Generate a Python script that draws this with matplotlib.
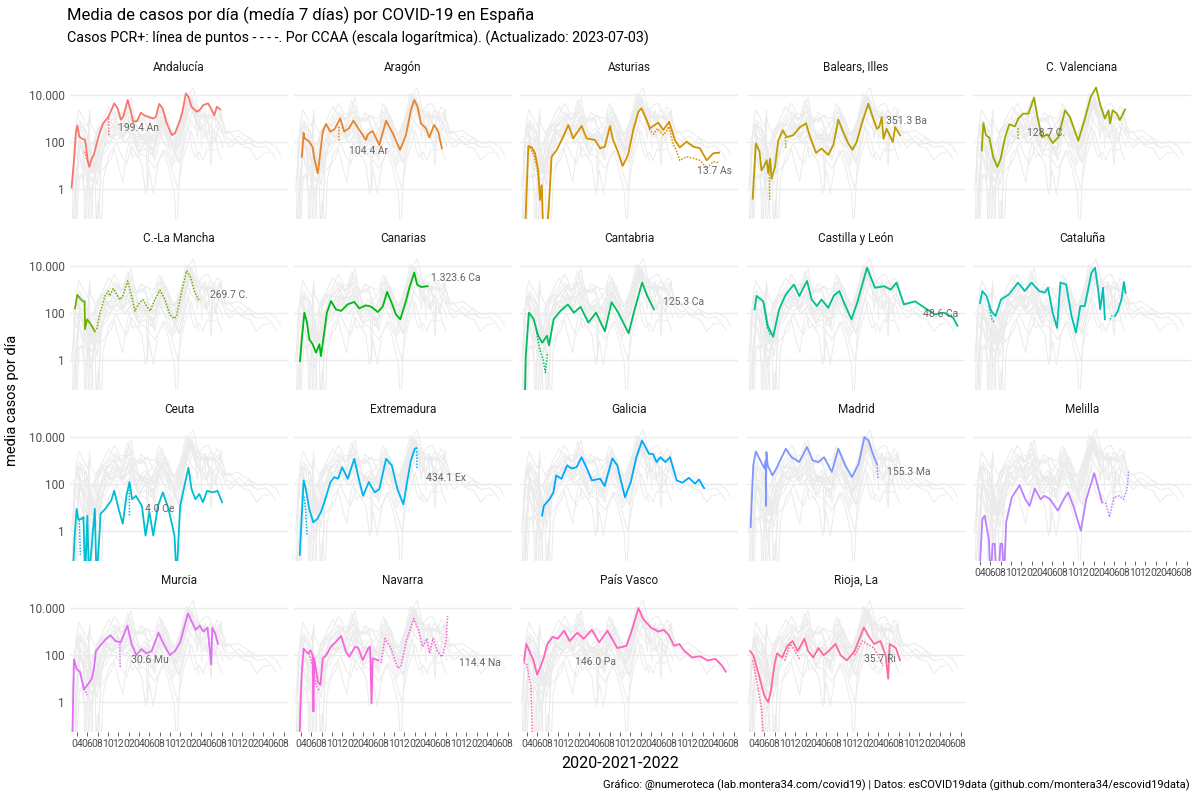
import numpy as np
import pandas as pd
import matplotlib
matplotlib.use('Agg')
import matplotlib.pyplot as plt

plt.rcParams['font.family'] = ['Roboto', 'DejaVu Sans']

nan = float('nan')

# (months since 2020-03-01, media casos/dia)
andalucia = [(0.0, 1.2), (0.46, 17), (0.85, 280), (1.1, 500), (1.5, 170), (1.95, 146), (2.6, 124), (2.8, 65), (3.1, 17), (3.4, 9), (3.9, 20), (4.3, 29), (4.85, 89), (5.5, 280), (6.1, 630), (7.1, 1200), (7.4, 1650), (8.25, 4450), (8.9, 2700), (9.55, 900), (10.0, 1250), (10.85, 6200), (11.4, 2300), (11.9, 740), (12.7, 800), (13.4, 1800), (14.0, 1400), (14.8, 1200), (15.8, 1000), (16.3, 1200), (16.95, 4200), (17.6, 2750), (18.4, 630), (19.4, 200), (20.0, 240), (21.0, 900), (21.5, 2300), (22.1, 11800), (22.6, 8500), (23.2, 3200), (24.2, 1950), (24.8, 2350), (25.5, 3800), (26.4, 4450), (27.1, 2350), (27.6, 1400), (28.1, 3200), (28.7, 2500)]
andalucia_pcr = [(2.5, 40), (2.8, 25), (3.1, 15), (nan, nan), (7.15, 1400), (7.2, 199.4)]

aragon = [(1.2, 24), (1.55, 250), (1.75, 145), (2.65, 105), (3.3, 60), (3.6, 21), (4.3, 4.8), (4.8, 40), (5.25, 280), (5.9, 590), (6.7, 280), (7.5, 350), (8.65, 1030), (9.4, 280), (10.3, 390), (11.2, 820), (12.1, 390), (13.6, 124), (14.0, 220), (14.9, 300), (16.2, 76), (17.5, 820), (18.8, 240), (20.2, 47), (21.35, 200), (22.3, 2300), (22.95, 6200), (23.6, 3200), (24.25, 630), (25.2, 390), (25.85, 160), (26.8, 540), (27.6, 280), (28.3, 55)]
aragon_pcr = [(8.35, 450), (8.4, 104.4)]

asturias = [(0.65, 0), (1.3, 69), (1.95, 60), (2.6, 34), (3.2, 6.6), (3.55, 0.35), (3.9, 1.5), (4.2, 0), (4.85, 0), (5.3, 0.25), (5.8, 24), (6.8, 47), (7.75, 124), (9.05, 540), (10.0, 145), (11.6, 490), (12.6, 145), (14.2, 124), (15.2, 55), (16.1, 65), (17.1, 490), (17.7, 124), (18.7, 36), (19.55, 9.8), (20.6, 29), (21.6, 330), (22.6, 2000), (23.2, 2750), (24.05, 1030), (24.8, 390), (26.45, 680), (27.4, 330), (28.55, 740), (29.65, 124), (30.6, 60), (31.9, 105), (33.2, 65), (34.5, 55), (35.8, 17), (37.1, 34), (38.2, 36)]
asturias_pcr = [(1.6, 60), (2.3, 30), (3.0, 8), (3.6, 1), (nan, nan), (24.3, 900), (24.8, 330), (25.5, 220), (26.3, 380), (27.0, 250), (27.5, 200), (28.5, 460), (29.3, 90), (30.0, 40), (30.6, 17), (31.9, 24), (33.2, 21), (34.5, 17), (35.8, 7.8), (37.1, 15), (38.0, 13.7)]

balears = [(0.8, 0.4), (1.4, 89), (2.1, 40), (2.5, 6.3), (2.9, 8.9), (3.5, 17), (3.8, 4.7), (4.15, 20), (4.45, 2.8), (5.1, 8.9), (5.75, 120), (6.6, 320), (7.35, 165), (8.6, 195), (9.95, 440), (11.1, 630), (11.9, 165), (13.05, 35), (14.1, 54), (15.4, 29), (16.4, 76), (17.35, 910), (18.3, 270), (19.3, 87), (20.1, 48), (20.9, 102), (21.9, 620), (23.15, 4300), (23.8, 1620), (24.8, 370), (25.25, 440), (25.75, 1170), (26.1, 140), (26.7, 370), (27.9, 102), (28.35, 440), (29.3, 195)]
balears_pcr = [(4.0, 8), (4.1, 0.35), (nan, nan), (7.1, 165), (7.2, 50)]

valenciana = [(1.37, 45), (1.7, 650), (2.2, 195), (2.85, 155), (3.6, 23), (4.4, 8.9), (5.05, 20), (5.9, 165), (6.7, 570), (7.8, 470), (8.45, 1000), (9.4, 1630), (10.4, 1630), (11.5, 7900), (12.1, 1380), (13.0, 165), (14.1, 215), (15.1, 91), (16.2, 165), (17.5, 2250), (18.45, 1170), (20.05, 115), (21.35, 1000), (22.45, 8300), (23.5, 21000), (24.25, 4300), (25.2, 1000), (25.9, 2250), (26.2, 620), (26.7, 2250), (27.5, 1630), (28.1, 870), (29.1, 2450)]
valenciana_pcr = [(8.4, 400), (8.45, 128.7)]

mancha = [(0.65, 160), (1.1, 600), (1.6, 440), (2.15, 320), (2.5, 320), (2.6, 21), (3.0, 55), (3.7, 34), (4.5, 17)]
mancha_pcr = [(4.85, 21), (5.5, 105), (6.45, 540), (7.1, 870), (7.4, 540), (8.05, 1100), (8.7, 630), (9.35, 380), (9.9, 540), (10.85, 2350), (11.6, 540), (12.25, 123), (12.9, 235), (13.75, 380), (14.5, 200), (15.2, 123), (15.95, 320), (17.1, 960), (18.05, 380), (19.0, 89), (19.8, 59), (20.3, 76), (21.3, 870), (22.25, 6200), (23.05, 3250), (23.7, 870), (24.5, 380), (24.85, 450)]

canarias = [(0.85, 0.93), (1.2, 7.8), (1.7, 105), (2.2, 40), (2.65, 7.8), (3.3, 4.8), (3.95, 2.1), (4.6, 4.8), (4.9, 1.5), (5.45, 11), (6.05, 105), (6.85, 330), (7.8, 145), (8.8, 125), (10.1, 240), (11.35, 300), (12.3, 160), (13.6, 215), (14.6, 190), (15.9, 112), (16.85, 190), (17.7, 800), (18.45, 330), (19.4, 89), (20.25, 55), (21.35, 330), (22.0, 1200), (22.95, 5300), (23.5, 1650), (24.25, 1300), (25.5, 1400)]
canarias_pcr = []

cantabria = [(0.6, 0), (0.8, 1.5), (1.4, 105), (2.3, 59), (3.2, 11), (4.0, 5.6), (4.9, 11), (5.3, 4.3), (6.2, 55), (7.5, 124), (8.95, 235), (10.1, 105), (11.4, 185), (12.9, 40), (14.4, 105), (16.1, 17), (17.4, 295), (18.7, 105), (20.7, 14), (21.7, 105), (23.3, 2000), (24.3, 540), (25.6, 145)]
cantabria_pcr = [(2.8, 20), (3.5, 3), (4.2, 1), (4.6, 0.3), (5.0, 2)]

cyl = [(1.15, 145), (1.55, 540), (2.85, 320), (3.7, 29), (4.75, 10), (5.9, 145), (7.2, 630), (8.75, 1650), (9.8, 540), (11.3, 2350), (12.2, 380), (13.2, 200), (14.1, 380), (15.4, 170), (16.5, 560), (17.55, 870), (18.6, 235), (19.9, 55), (21.0, 275), (22.9, 8500), (24.45, 1200), (26.2, 1400), (27.5, 1000), (28.6, 2000), (30.05, 235), (32.2, 320), (34.4, 150), (36.1, 89), (37.8, 105), (39.55, 65), (40.4, 29)]
cyl_pcr = [(3.0, 200), (3.6, 25), (4.2, 12)]

cataluna = [(1.05, 275), (1.5, 870), (2.3, 540), (3.2, 124), (4.05, 76), (5.1, 380), (6.65, 630), (8.4, 2000), (9.7, 870), (11.0, 2000), (12.5, 870), (13.55, 740), (14.2, 1200), (15.1, 105), (15.95, 24), (16.6, 2000), (17.7, 1650), (18.75, 76), (19.6, 15), (20.45, 200), (21.3, 200), (22.6, 5200), (23.3, 8500), (23.9, 1000), (24.3, 145), (24.85, 1200), (25.2, 55), (nan, nan), (27.15, 76), (27.7, 124), (28.4, 380), (28.9, 2100), (29.2, 740)]
cataluna_pcr = [(2.8, 200), (3.3, 60), (3.8, 40), (nan, nan), (26.2, 55), (26.6, 80)]

ceuta = [(0.2, 0), (0.6, 0.66), (0.97, 8.9), (1.3, 3.3), (1.85, 3.3), (2.3, 4), (2.6, 0), (3.05, 4.6), (3.35, 0), (4.5, 8.9), (4.8, 0), (5.3, 0.34), (5.6, 5.5), (6.5, 8.9), (7.65, 20), (8.25, 52), (9.1, 8.9), (9.9, 2.1), (10.6, 32), (11.2, 125), (11.7, 23), (12.45, 32), (13.6, 12), (14.3, 0.66), (15.05, 6.5), (15.8, 0.66), (16.7, 12), (17.65, 45), (18.75, 8.9), (19.9, 0.66), (20.3, 0), (21.0, 12), (21.7, 62), (22.6, 500), (23.2, 62), (23.95, 23), (24.7, 38), (25.4, 17), (26.2, 52), (27.3, 45), (28.25, 52), (29.1, 17)]
ceuta_pcr = [(1.5, 3), (1.7, 0.1), (nan, nan), (11.15, 80), (11.2, 4.0)]

extremadura = [(0.8, 0.1), (1.55, 145), (1.9, 74), (2.65, 8.9), (3.4, 2.4), (4.15, 3.3), (4.9, 6.5), (5.65, 20), (6.75, 123), (7.5, 200), (8.2, 170), (9.0, 520), (10.1, 170), (11.35, 1200), (12.3, 145), (13.05, 32), (14.15, 123), (15.3, 45), (16.2, 62), (17.5, 1200), (18.6, 630), (19.7, 62), (20.85, 14), (21.55, 123), (22.3, 1000), (23.05, 3200), (23.4, 3400)]
extremadura_pcr = [(1.6, 30), (1.9, 10), (2.2, 0.7), (nan, nan), (23.45, 2500), (23.5, 434.1)]

galicia = [(3.96, 4.6), (4.3, 12), (5.4, 23), (6.15, 45), (6.7, 235), (7.7, 170), (8.8, 630), (9.7, 460), (10.65, 540), (11.6, 1400), (12.5, 540), (13.6, 145), (15.2, 170), (16.05, 83), (17.55, 1250), (18.5, 630), (20.0, 28), (21.1, 120), (22.2, 1400), (23.3, 7100), (24.65, 1950), (25.4, 1950), (26.1, 870), (26.85, 1400), (27.8, 870), (28.7, 1400), (30.0, 145), (31.1, 115), (32.35, 186), (33.55, 105), (34.3, 160), (35.3, 68)]
galicia_pcr = []

madrid = [(0.4, 1.5), (0.9, 630), (1.4, 2450), (1.95, 1400), (2.75, 630), (3.1, 460), (3.3, 1000), (3.35, 12), (3.45, 2300), (3.7, 630), (4.6, 235), (5.35, 460), (6.1, 1020), (7.2, 3200), (8.3, 1400), (9.8, 870), (11.3, 3800), (12.4, 1020), (13.5, 870), (14.6, 1400), (16.1, 330), (17.35, 3200), (18.7, 630), (20.0, 200), (21.3, 740), (22.4, 10000), (23.2, 7200), (24.0, 2000), (24.8, 740)]
madrid_pcr = [(24.9, 700), (25.0, 155.3)]

melilla = [(0.9, 0), (1.5, 3.3), (1.95, 4.6), (2.75, 0.47), (3.1, 0), (3.5, 0.3), (3.9, 0.29), (4.2, 0), (4.6, 0), (5.0, 0.3), (5.35, 0.29), (5.7, 0), (6.1, 2.4), (7.2, 28), (8.7, 91), (9.8, 23), (10.65, 12), (11.65, 66), (12.75, 23), (13.5, 32), (14.6, 23), (16.1, 7.6), (17.25, 23), (18.1, 45), (19.1, 12), (20.55, 1.06), (21.6, 23), (23.15, 295), (23.9, 72), (24.65, 17)]
melilla_pcr = [(24.65, 17), (25.4, 15), (26.1, 4), (26.9, 28), (28.0, 32), (28.8, 23), (29.5, 62), (29.8, 380)]

murcia = [(0.1, 0), (0.45, 68), (1.0, 25), (1.6, 20), (2.4, 3.5), (3.2, 6), (3.9, 10), (4.3, 25), (4.7, 150), (5.5, 250), (6.5, 450), (7.5, 700), (8.5, 400), (9.5, 350), (10.8, 1800), (11.6, 300), (12.5, 100), (13.5, 180), (14.5, 120), (15.5, 150), (16.8, 900), (17.8, 300), (19.0, 100), (20.0, 150), (21.0, 350), (22.5, 6000), (23.3, 2500), (24.0, 1200), (24.8, 1800), (25.5, 1000), (26.3, 1500), (27.0, 40), (27.2, 1500), (27.8, 800), (28.3, 300)]
murcia_pcr = [(2.2, 5), (3.0, 2), (nan, nan), (9.3, 400), (9.4, 30.6)]

navarra = [(0.7, 0), (0.9, 0.4), (1.2, 20), (1.55, 190), (2.35, 117), (2.9, 160), (3.3, 100), (3.45, 0.4), (3.6, 76), (4.3, 7.6), (4.8, 5.4), (5.25, 74), (5.9, 100), (6.85, 230), (7.8, 370), (8.8, 660), (9.75, 138), (10.4, 85), (11.5, 230), (12.1, 204), (13.0, 62), (14.05, 195), (14.4, 230), (14.7, 0.9), (14.9, 74), (15.9, 62)]
navarra_pcr = [(2.6, 120), (3.2, 40), (4.0, 5), (4.6, 3), (nan, nan), (15.9, 62), (16.5, 49), (17.3, 510), (18.45, 195), (19.75, 28), (20.4, 35), (21.35, 370), (22.85, 3600), (23.75, 1170), (24.6, 230), (25.4, 510), (25.9, 117), (26.55, 510), (27.5, 138), (28.3, 85), (29.1, 370), (29.4, 4600)]

pais_vasco = [(0.5, 60), (0.9, 300), (1.5, 150), (2.3, 60), (3.0, 15), (3.6, 30), (4.3, 80), (5.0, 300), (6.0, 600), (7.0, 500), (8.2, 1100), (9.3, 400), (10.8, 900), (12.0, 500), (13.6, 1200), (15.0, 350), (16.6, 1100), (18.5, 200), (20.3, 250), (21.5, 1500), (22.6, 10000), (23.5, 3500), (25.0, 1500), (26.5, 1000), (27.5, 1200), (28.5, 700), (29.5, 250), (30.5, 300), (31.5, 150), (33.0, 80), (34.5, 90), (36.0, 60), (37.5, 70), (38.8, 35), (39.5, 20)]
pais_vasco_pcr = [(0.4, 50), (1.0, 40), (1.8, 5), (2.2, 0)]

rioja = [(0.3, 150), (0.9, 100), (1.6, 30), (2.3, 8), (3.0, 2), (3.8, 1), (4.3, 3), (5.0, 40), (5.5, 120), (6.5, 80), (7.5, 250), (8.5, 400), (9.5, 150), (10.8, 500), (11.5, 150), (12.5, 80), (13.5, 200), (14.5, 100), (15.5, 150), (16.8, 300), (17.8, 100), (19.0, 60), (20.5, 150), (22.3, 1500), (23.3, 600), (24.3, 300), (25.5, 400), (26.5, 100), (27.0, 10), (27.3, 300), (28.5, 200), (29.3, 60)]
rioja_pcr = [(0.8, 60), (1.5, 10), (2.5, 0.5), (3.0, 0), (nan, nan), (7.0, 60), (8.0, 300), (9.0, 150), (10.0, 60), (nan, nan), (20.5, 100), (22.0, 400), (24.3, 200), (26.0, 35.7)]

regions = ['Andalucía', 'Aragón', 'Asturias', 'Balears, Illes', 'C. Valenciana',
           'C.-La Mancha', 'Canarias', 'Cantabria', 'Castilla y León', 'Cataluña',
           'Ceuta', 'Extremadura', 'Galicia', 'Madrid', 'Melilla',
           'Murcia', 'Navarra', 'País Vasco', 'Rioja, La']
series = [andalucia, aragon, asturias, balears, valenciana, mancha, canarias, cantabria, cyl, cataluna,
          ceuta, extremadura, galicia, madrid, melilla, murcia, navarra, pais_vasco, rioja]
series_pcr = [andalucia_pcr, aragon_pcr, asturias_pcr, balears_pcr, valenciana_pcr, mancha_pcr, canarias_pcr,
              cantabria_pcr, cyl_pcr, cataluna_pcr, ceuta_pcr, extremadura_pcr, galicia_pcr, madrid_pcr,
              melilla_pcr, murcia_pcr, navarra_pcr, pais_vasco_pcr, rioja_pcr]

# last value labels and where they sit (months, value)
label_txt = ['199.4 An', '104.4 Ar', '13.7 As', '351.3 Ba', '128.7 C.', '269.7 C.', '1.323.6 Ca', '125.3 Ca',
             '48.6 Ca', None, '4.0 Ce', '434.1 Ex', None, '155.3 Ma', None, '30.6 Mu', '114.4 Na',
             '146.0 Pa', '35.7 Ri']
label_at = [(9.0, 415), (10.3, 42), (33.9, 6.0), (26.6, 790), (10.1, 245), (26.8, 590), (26.2, 3000), (27.4, 300),
            (33.7, 90), None, (14.2, 8.9), (25.2, 183), None, (26.8, 340), None, (11.5, 61), (31.6, 45),
            (10.3, 50), (22.3, 67)]


def hcl_color(h, c=100, l=65):
    h = np.radians(h)
    u = c * np.cos(h)
    v = c * np.sin(h)
    xn, yn, zn = 95.047, 100.0, 108.883
    un = 4 * xn / (xn + 15 * yn + 3 * zn)
    vn = 9 * yn / (xn + 15 * yn + 3 * zn)
    y = yn * ((l + 16) / 116) ** 3
    up = u / (13 * l) + un
    vp = v / (13 * l) + vn
    x = y * 9 * up / (4 * vp)
    z = y * (12 - 3 * up - 20 * vp) / (4 * vp)
    x, y, z = x / 100, y / 100, z / 100
    rgb = [3.2406 * x - 1.5372 * y - 0.4986 * z,
           -0.9689 * x + 1.8758 * y + 0.0415 * z,
           0.0557 * x - 0.2040 * y + 1.0570 * z]
    out = []
    for k in rgb:
        k = 12.92 * k if k <= 0.0031308 else 1.055 * k ** (1 / 2.4) - 0.055
        out.append(min(1, max(0, k)))
    return tuple(out)


colors = [hcl_color(15 + 360 * i / 19) for i in range(19)]

start = pd.Timestamp('2020-03-01')


def to_xy(pairs):
    t = np.array([p[0] for p in pairs], dtype=float)
    v = np.array([p[1] for p in pairs], dtype=float)
    d = start + pd.to_timedelta(np.nan_to_num(t) * 30.44, unit='D')
    v = np.where(np.isnan(t), np.nan, np.maximum(v, 0.01))
    return d, v


def to_date(t):
    return start + pd.Timedelta(days=t * 30.44)


W, H = 1200, 800
fig = plt.figure(figsize=(12, 8), dpi=100)

col_left = [70, 294, 520, 747, 973]
row_top = [82, 253, 424, 595]
pw, ph = 218, 137

xmin, xmax = to_date(-0.31), to_date(41.86)
ticks = pd.date_range('2020-04-01', '2023-08-01', freq='2MS')
tick_lbl = [d.strftime('%m') for d in ticks]

all_xy = [to_xy(s) for s in series]

for i, name in enumerate(regions):
    r, c = divmod(i, 5)
    ax = fig.add_axes([col_left[c] / W, 1 - (row_top[r] + ph) / H, pw / W, ph / H])
    ax.set_yscale('log')
    for d, v in all_xy:
        ax.plot(d, v, color='#EBEBEB', lw=0.7, zorder=1)
    if series_pcr[i]:
        d, v = to_xy(series_pcr[i])
        ax.plot(d, v, color=colors[i], lw=1.1, ls=(0, (1, 1)), zorder=3)
    d, v = all_xy[i]
    ax.plot(d, v, color=colors[i], lw=1.3, zorder=4)
    if label_txt[i]:
        lt, lv = label_at[i]
        ax.text(to_date(lt), lv, label_txt[i], fontsize=7.5, color='#666666', va='center', ha='left', zorder=5)

    ax.set_xlim(xmin, xmax)
    ax.set_ylim(10 ** -1.261, 10 ** 4.556)
    ax.set_yticks([1, 100, 10000])
    ax.minorticks_off()
    ax.yaxis.grid(True, color='#EBEBEB', lw=1.0, zorder=0)
    ax.set_axisbelow(True)
    for s in ax.spines.values():
        s.set_visible(False)
    if c == 0:
        ax.set_yticklabels(['1', '100', '10.000'])
        ax.tick_params(axis='y', length=0, labelsize=8.5, labelcolor='#4D4D4D', pad=4)
    else:
        ax.tick_params(axis='y', length=0, labelleft=False)
    ax.set_xticks(ticks)
    if i >= 14:
        ax.set_xticklabels(tick_lbl)
        ax.tick_params(axis='x', length=3, width=0.6, color='#4D4D4D', labelsize=7.5,
                       labelcolor='#4D4D4D', pad=2)
    else:
        ax.tick_params(axis='x', length=0, labelbottom=False)
    ax.set_title(name, fontsize=8.5, color='#1A1A1A', pad=8)

fig.text(67 / W, 1 - 15 / H, 'Media de casos por día (medía 7 días) por COVID-19 en España',
         fontsize=12, va='center', ha='left')
fig.text(67 / W, 1 - 38 / H,
         'Casos PCR+: línea de puntos - - - -. Por CCAA (escala logarítmica). (Actualizado: 2023-07-03)',
         fontsize=10.3, va='center', ha='left')
fig.text(12 / W, 1 - 400 / H, 'media casos por día', rotation=90, fontsize=10.5, va='center', ha='center')
fig.text(620 / W, 1 - 763 / H, '2020-2021-2022', fontsize=11.5, va='center', ha='center')
fig.text(1190 / W, 1 - 785 / H,
         'Gráfico: @numeroteca (lab.montera34.com/covid19) | Datos: esCOVID19data (github.com/montera34/escovid19data)',
         fontsize=8, va='center', ha='right')

fig.savefig('out.png', dpi=100)
